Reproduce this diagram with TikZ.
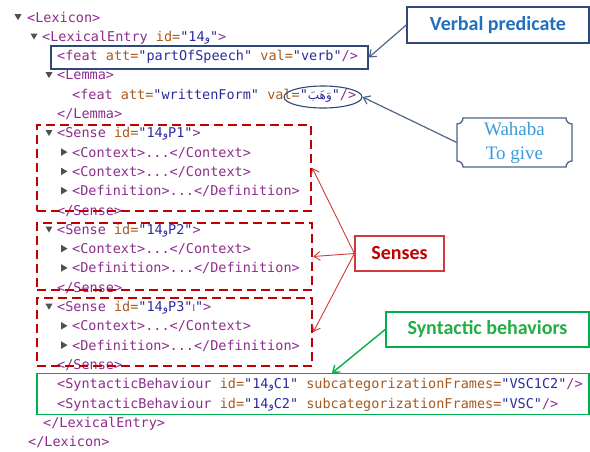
\documentclass[tikz,border=0pt]{standalone}
\usepackage{fontspec}
\usetikzlibrary{arrows.meta,shapes.geometric}
\TeXXeTstate=1
\newfontfamily\codefont{DejaVu Sans Mono}
\newfontfamily\labfont{Carlito}
\newfontfamily\wahfont{Liberation Serif}
\newfontfamily\arabicfont[Script=Arabic]{DejaVu Sans}
\definecolor{tagc}{HTML}{8E2C8E}
\definecolor{attc}{HTML}{A65A1E}
\definecolor{valc}{HTML}{2B2BA0}
\definecolor{navyc}{HTML}{2F4A78}
\definecolor{slatec}{HTML}{4F6486}
\definecolor{verbc}{HTML}{1F6FC2}
\definecolor{darkred}{HTML}{C00000}
\definecolor{sensec}{HTML}{D23A3A}
\definecolor{greenc}{HTML}{00B050}
\definecolor{greentxt}{HTML}{22AE45}
\definecolor{wahc}{HTML}{3C9BDA}
\definecolor{tric}{HTML}{505050}
\newcommand\tg[1]{\textcolor{tagc}{#1}}
\newcommand\an[1]{\textcolor{attc}{#1}}
\newcommand\av[1]{\textcolor{valc}{#1}}
\newcommand\waw{{\arabicfont\fontsize{11}{11}\selectfont و}}
\newcommand\tdown[2]{\fill[tric] (#1-3.5,#2-2.8) -- (#1+3.5,#2-2.8) -- (#1,#2+3.2) -- cycle;}
\newcommand\tright[2]{\fill[tric] (#1-3,#2-3.8) -- (#1-3,#2+3.8) -- (#1+3.5,#2) -- cycle;}
\begin{document}
\begin{tikzpicture}[x=1pt,y=-1pt,
  code/.style={anchor=base west,inner sep=0pt,font=\codefont\fontsize{13.5}{16}\selectfont},
  lab/.style={draw,inner sep=0pt,font=\labfont\bfseries\fontsize{20}{24}\selectfont},
  dbox/.style={draw=darkred,line width=2.6pt,dash pattern=on 9pt off 5pt,inner sep=0pt},
  redarrow/.style={draw=sensec,line width=0.9pt,-{Straight Barb[length=6pt,width=9pt]}},
  slatearrow/.style={draw=slatec,line width=1.2pt,-{Straight Barb[length=6pt,width=9pt]}},
  greenarrow/.style={draw=greenc,line width=1.4pt,-{Straight Barb[length=6pt,width=9pt]}}]
\useasboundingbox (0,0) rectangle (590,451);
\fill[white] (0,0) rectangle (590,451);
% code lines
\tdown{18}{17}
\node[code] (l0) at (27,22) {\tg{<Lexicon>}};
\tdown{34}{36.3}
\node[code] (l1) at (42,41.3) {\tg{<LexicalEntry} \an{id=}\av{"14\waw"}\tg{>}};
\node[code] (l2) at (57,60.6) {\tg{<feat} \an{att=}\av{"partOfSpeech"} \an{val=}\av{"verb"}\tg{/>}};
\tdown{49}{74.9}
\node[code] (l3) at (57,79.9) {\tg{<Lemma>}};
\node[code] (l4) at (72,99.2) {\tg{<feat} \an{att=}\av{"writtenForm"} \an{val=}\av{"{\arabicfont\fontsize{12}{12}\selectfont\beginR وَهَبَ\endR}"}\tg{/>}};
\node[code] (l5) at (57,118.5) {\tg{</Lemma>}};
\tdown{49}{132.8}
\node[code] (l6) at (57,137.8) {\tg{<Sense} \an{id=}\av{"14\waw{}P1"}\tg{>}};
\tright{64}{152.1}
\node[code] (l7) at (72,157.1) {\tg{<Context>...</Context>}};
\tright{64}{171.4}
\node[code] (l8) at (72,176.4) {\tg{<Context>...</Context>}};
\tright{64}{190.7}
\node[code] (l9) at (72,195.7) {\tg{<Definition>...</Definition>}};
\node[code] (l10) at (57,215) {\tg{</Sense>}};
\tdown{49}{229.3}
\node[code] (l11) at (57,234.3) {\tg{<Sense} \an{id=}\av{"14\waw{}P2"}\tg{>}};
\tright{64}{248.6}
\node[code] (l12) at (72,253.6) {\tg{<Context>...</Context>}};
\tright{64}{267.9}
\node[code] (l13) at (72,272.9) {\tg{<Definition>...</Definition>}};
\node[code] (l14) at (57,292.2) {\tg{</Sense>}};
\tdown{49}{306.5}
\node[code] (l15) at (57,311.5) {\tg{<Sense} \an{id=}\av{"14\waw{}P3"{\arabicfont\fontsize{9}{9}\selectfont ا}"}\tg{>}};
\tright{64}{325.8}
\node[code] (l16) at (72,330.8) {\tg{<Context>...</Context>}};
\tright{64}{345.1}
\node[code] (l17) at (72,350.1) {\tg{<Definition>...</Definition>}};
\node[code] (l18) at (57,369.4) {\tg{</Sense>}};
\node[code] (l19) at (57,388.7) {\tg{<SyntacticBehaviour} \an{id=}\av{"14\waw{}C1"} \an{subcategorizationFrames=}\av{"VSC1C2"}\tg{/>}};
\node[code] (l20) at (57,408) {\tg{<SyntacticBehaviour} \an{id=}\av{"14\waw{}C2"} \an{subcategorizationFrames=}\av{"VSC"}\tg{/>}};
\node[code] (l21) at (43,427.3) {\tg{</LexicalEntry>}};
\node[code] (l22) at (28,446.6) {\tg{</Lexicon>}};
% highlight boxes
\node[draw=navyc,line width=1.4pt,minimum width=317pt,minimum height=23pt,inner sep=0pt] (pos) at (209.5,57.5) {};
\node[ellipse,draw=navyc,line width=1.1pt,minimum width=78pt,minimum height=22pt,inner sep=0pt] (arval) at (323,97) {};
\node[dbox,minimum width=274pt,minimum height=86pt] (s1) at (174,168) {};
\node[dbox,minimum width=275pt,minimum height=67pt] (s2) at (174.5,256.5) {};
\node[dbox,minimum width=275pt,minimum height=68pt] (s3) at (174.5,332) {};
\node[draw=greenc,line width=1.6pt,minimum width=552pt,minimum height=41pt,inner sep=0pt] (synbox) at (313,394) {};
% labels
\node[lab,draw=navyc,line width=1.3pt,text=verbc,minimum width=182pt,minimum height=36pt] (verbal) at (498,25) {Verbal predicate};
\node[lab,draw=sensec,line width=1.2pt,text=darkred,minimum width=89pt,minimum height=35pt] (senses) at (399.5,253.5) {Senses};
\node[lab,draw=greenc,line width=1.6pt,text=greentxt,minimum width=203pt,minimum height=35pt] (synt) at (487.5,329.5) {Syntactic behaviors};
\node[inner sep=0pt,minimum width=115pt,minimum height=49pt,align=center,text=wahc,font=\wahfont\fontsize{19}{24}\selectfont] (wahaba) at (514.5,142.5) {Wahaba\\To give};
\draw[slatec,line width=1.3pt] (463,118) -- (566,118) .. controls (566,121.3) and (568.7,124) .. (572,124)
  -- (572,161) .. controls (568.7,161) and (566,163.7) .. (566,167)
  -- (463,167) .. controls (463,163.7) and (460.3,161) .. (457,161)
  -- (457,124) .. controls (460.3,124) and (463,121.3) .. (463,118) -- cycle;
\coordinate (gtip) at (332,373);
% connectors
\draw[slatearrow] (verbal.west) -- (pos.east);
\draw[slatearrow] (wahaba.west) -- (arval.east);
\draw[redarrow] (senses.west) -- (s1.east);
\draw[redarrow] (senses.west) -- (s2.east);
\draw[redarrow] (senses.west) -- (s3.east);
\draw[greenarrow] (synt.west) -- (gtip);
\end{tikzpicture}
\end{document}
